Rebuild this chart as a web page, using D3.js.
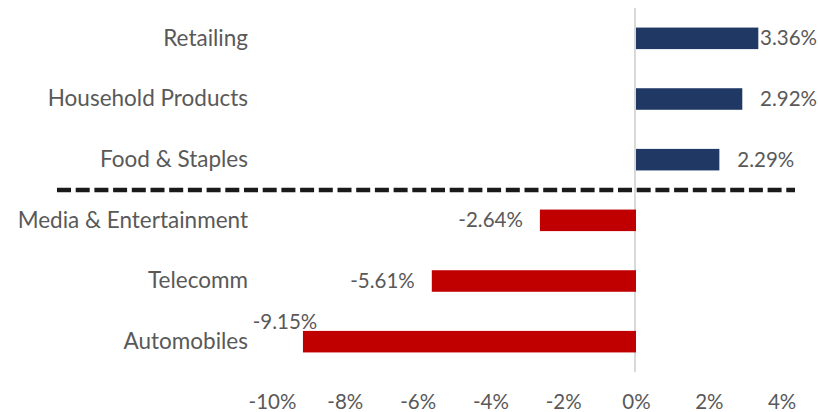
<!DOCTYPE html>
<html>
<head>
<meta charset="utf-8">
<script src="https://cdn.jsdelivr.net/npm/d3@7"></script>
<style>
  html, body { margin: 0; padding: 0; background: #ffffff; }
  svg { display: block; }
  text { font-family: Lato, "Open Sans", sans-serif; fill: #595959; }
</style>
</head>
<body>
<svg id="chart" width="818" height="412"></svg>
<script>
// Sector returns, top to bottom
const categories = ["Retailing", "Household Products", "Food & Staples",
                    "Media & Entertainment", "Telecomm", "Automobiles"];
const returns = [0.0336, 0.0292, 0.0229, -0.0264, -0.0561, -0.0915];
const tickValues = [-0.10, -0.08, -0.06, -0.04, -0.02, 0, 0.02, 0.04];

const W = 818, H = 412;
const svg = d3.select("#chart");

const x = d3.scaleLinear().domain([-0.10, 0.04]).range([272, 781.6]);
const y = d3.scaleBand().domain(categories).range([8, 372])
  .paddingInner(0.645).paddingOuter(0.3225);

// plain hyphen for negatives
const pct = d => d3.format(".2%")(d).replace("\u2212", "-");
const tickFmt = d => d3.format(".0%")(d).replace("\u2212", "-");

// zero reference line
svg.append("line")
  .attr("x1", x(0) - 1).attr("x2", x(0) - 1)
  .attr("y1", y.range()[0]).attr("y2", y.range()[1])
  .attr("stroke", "#d9d9d9").attr("stroke-width", 2);

// bars
svg.append("g").selectAll("rect")
  .data(categories)
  .join("rect")
  .attr("x", (c, i) => Math.min(x(0), x(returns[i])))
  .attr("y", c => y(c))
  .attr("width", (c, i) => Math.abs(x(returns[i]) - x(0)))
  .attr("height", y.bandwidth())
  .attr("fill", (c, i) => returns[i] >= 0 ? "#203864" : "#c00000");

// category labels
svg.append("g").selectAll("text")
  .data(categories)
  .join("text")
  .attr("x", 248)
  .attr("y", c => y(c) + y.bandwidth() / 2)
  .attr("dy", "0.33em")
  .attr("text-anchor", "end")
  .style("font-size", "22.5px")
  .text(c => c);

// value labels
const valG = svg.append("g");
categories.forEach((c, i) => {
  const v = returns[i];
  const cy = y(c) + y.bandwidth() / 2;
  const t = valG.append("text").style("font-size", "20.5px").text(pct(v));
  const w = t.node().getComputedTextLength();
  if (v >= 0) {
    let sx = x(v) + 18;
    if (sx + w > W - 1) sx = W - 1 - w;
    t.attr("x", sx).attr("y", cy).attr("dy", "0.34em");
  } else {
    const ex = x(v) - 17;
    if (ex - w < 250) {
      // not enough room beside the bar: place it above the bar end
      t.attr("x", x(v) - 18).attr("y", y(c) - 9).attr("dy", "0.34em")
       .attr("text-anchor", "middle");
    } else {
      t.attr("x", ex).attr("y", cy).attr("dy", "0.34em")
       .attr("text-anchor", "end");
    }
  }
});

// dashed separator between gainers and decliners
const sepY = (y(categories[2]) + y.bandwidth() + y(categories[3])) / 2;
svg.append("line")
  .attr("x1", 57).attr("x2", 795)
  .attr("y1", sepY).attr("y2", sepY)
  .attr("stroke", "#1a1a1a").attr("stroke-width", 4.5)
  .attr("stroke-dasharray", "14 4.7");

// x axis tick labels
const axis = d3.axisBottom(x).tickValues(tickValues).tickFormat(tickFmt).tickSize(0);
const ax = svg.append("g").attr("transform", "translate(0,391)").call(axis);
ax.select(".domain").remove();
ax.selectAll("text")
  .attr("fill", "#595959")
  .style("font-size", "20.5px")
  .style("font-family", "Lato, 'Open Sans', sans-serif");
</script>
</body>
</html>
